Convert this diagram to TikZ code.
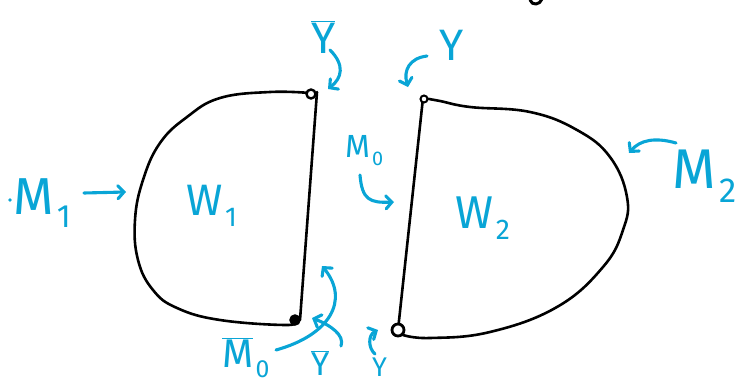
\documentclass[tikz,border=0pt]{standalone}
\usepackage{fontspec}
\setmainfont{Fira Sans}
\usepackage{graphicx}
\usetikzlibrary{arrows.meta}
\definecolor{penblue}{HTML}{09A5D6}
\newcommand{\lowsub}[1]{\kern0.06em\raisebox{-0.25em}{\scalebox{0.62}{#1}}}
\newcommand{\barred}[1]{$\overline{\mbox{#1}}$}

\begin{document}
\begin{tikzpicture}[x=1pt, y=-1pt,
    wall/.style={draw=black, line width=2.6pt, line cap=round, line join=round},
    pen/.style={draw=penblue, line width=3.1pt, line cap=round,
                -{Straight Barb[length=6pt, width=13pt, line cap=round]}},
    lab/.style={text=penblue, inner sep=0pt, anchor=base west},
    vert/.style={circle, draw=black, line width=2.4pt, fill=white, inner sep=0pt},
  ]
  \useasboundingbox (0,0) rectangle (745,383);

  % the two regions
  \draw[wall] plot[smooth, tension=0.7] coordinates {(310,93) (270,92) (220,98)
      (187,117) (160,143) (143,180) (135,220) (138,260) (153,290) (177,308)
      (220,320) (287,325) (295,320)};
  \draw[wall] (317,92) -- (300,320);
  \draw[wall] plot[smooth, tension=0.7] coordinates {(423,98) (440,101) (470,107)
      (530,112) (577,130) (610,157) (627,197) (623,230) (603,267) (557,307)
      (490,332) (430,338) (403,335)};
  \draw[wall] (423,98) -- (398,330);

  % corner points
  \node[vert, minimum size=9pt] (ytl) at (311,94) {};
  \node[vert, minimum size=9pt, fill=black] (ybl) at (295,320) {};
  \node[vert, minimum size=7pt, line width=2pt] (ytr) at (424,99) {};
  \node[vert, minimum size=12pt, line width=2.8pt] (ybr) at (398,330) {};

  % cut-off stroke at the top
  \draw[wall, line width=3pt] (530,0) .. controls (532,6) and (540,5) .. (542,-1);

  % labels
  \node[lab, font=\fontsize{44}{44}\selectfont] (w1) at (186,215) {W\lowsub{1}};
  \node[lab, font=\fontsize{46}{46}\selectfont] (w2) at (455,228) {W\lowsub{2}};
  \fill[penblue] (10,200) circle (1.8pt);
  \node[lab, font=\fontsize{52}{52}\selectfont] (m1) at (13,214) {M\lowsub{1}};
  \node[lab, font=\fontsize{56}{56}\selectfont] (m2) at (672,188) {M\lowsub{2}};
  \node[lab, font=\fontsize{32}{32}\selectfont] (m0) at (345,157) {M\lowsub{0}};
  \node[lab, font=\fontsize{44}{44}\selectfont] (ybt) at (311,53) {\barred{Y}};
  \node[lab, font=\fontsize{44}{44}\selectfont] (yt) at (439,60) {Y};
  \node[lab, font=\fontsize{40}{40}\selectfont] (mb0) at (222,367) {\barred{M}\lowsub{0}};
  \node[lab, font=\fontsize{33}{33}\selectfont] (ybb) at (311,375) {\barred{Y}};
  \node[lab, font=\fontsize{27}{27}\selectfont] (yb) at (372,376) {Y};

  % arrow ends
  \coordinate (m1s) at (84,193);   \coordinate (m1e) at (126,192);
  \coordinate (m2s) at (676,143);  \coordinate (m2e) at (629,153);
  \coordinate (m0s) at (360,175);  \coordinate (m0e) at (394,202);
  \coordinate (ybts) at (330,50);  \coordinate (ybte) at (328,89);
  \coordinate (yts) at (427,56);   \coordinate (yte) at (408,87);
  \coordinate (mb0s) at (276,350); \coordinate (mb0e) at (322,266);
  \coordinate (ybbs) at (341,346); \coordinate (ybbe) at (312,318);
  \coordinate (ybs) at (375,354);  \coordinate (ybe) at (378,330);

  \draw[pen] (m1s) -- (m1e);
  \draw[pen] (m2s) .. controls (655,137) and (640,140) .. (m2e);
  \draw[pen] (m0s) .. controls (362,200) and (370,203) .. (m0e);
  \draw[pen] (ybts) .. controls (345,65) and (342,78) .. (ybte);
  \draw[pen] (yts) .. controls (410,58) and (403,70) .. (yte);
  \draw[pen] (mb0s) .. controls (330,335) and (350,300) .. (mb0e);
  \draw[pen] (ybbs) .. controls (345,335) and (330,325) .. (ybbe);
  \draw[pen] (ybs) .. controls (368,348) and (368,335) .. (ybe);
\end{tikzpicture}
\end{document}
